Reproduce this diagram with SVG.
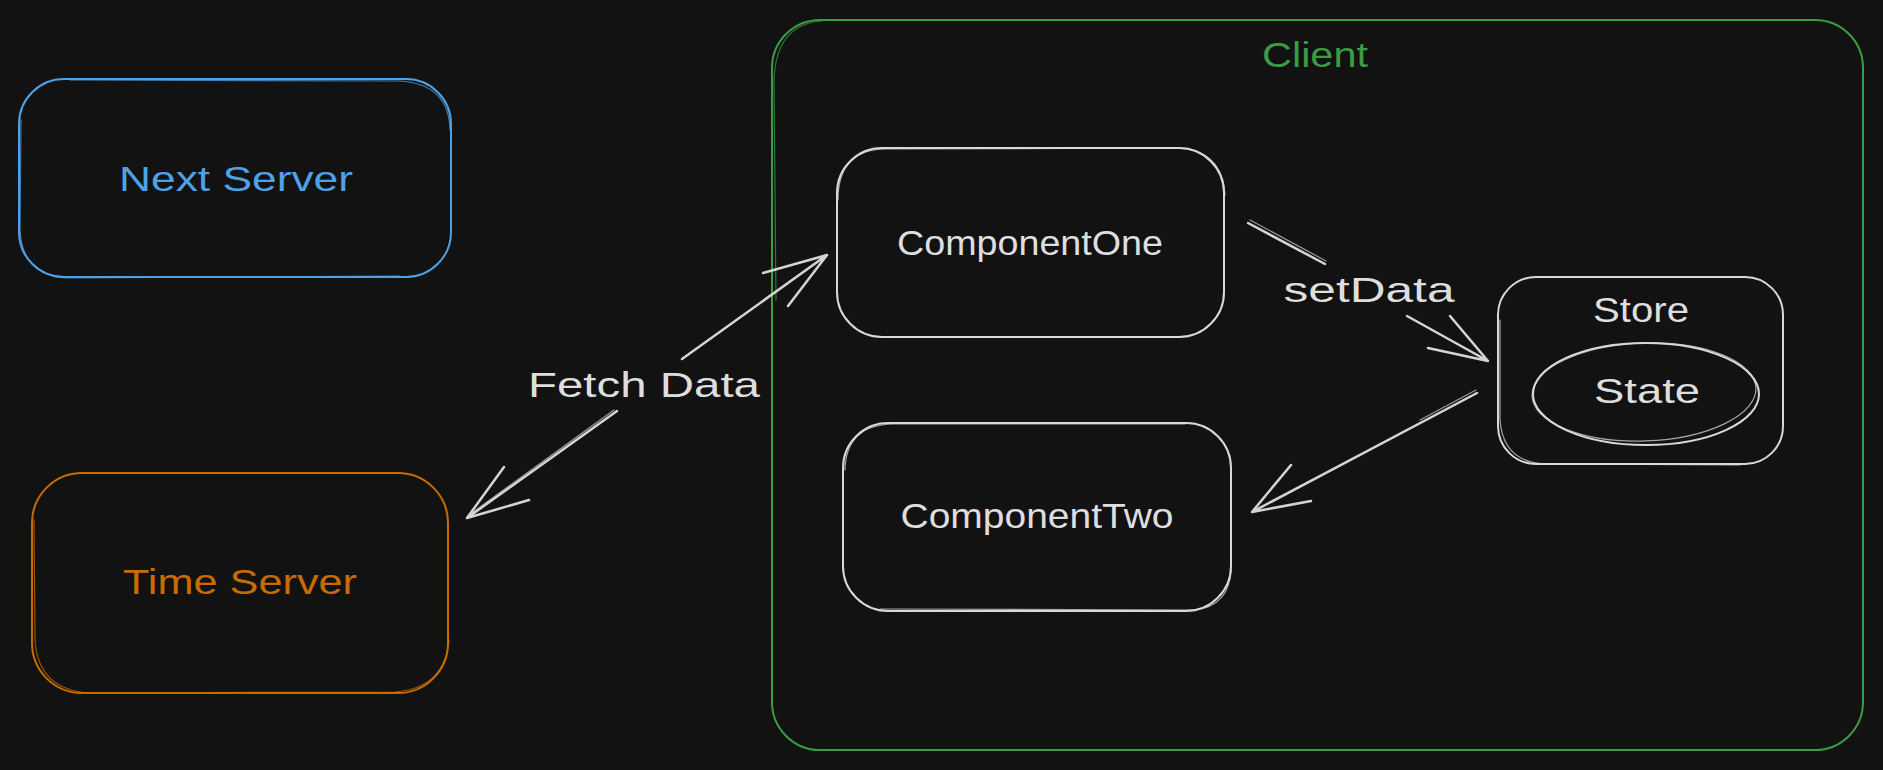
<svg xmlns="http://www.w3.org/2000/svg" width="1883" height="770" viewBox="0 0 1883 770">
  <defs>
    <style>
      .bg { fill: #121212; }
      .box { fill: none; stroke-width: 2; stroke-linecap: round; stroke-linejoin: round; }
      .box2 { fill: none; stroke-width: 1.2; stroke-linecap: round; opacity: 0.75; }
      .w { stroke: #d8d8d8; }
      .blue { stroke: #4fa1e6; }
      .orange { stroke: #c86c00; }
      .green { stroke: #3a9c45; }
      .lbl { font-family: "Liberation Sans", Arial, sans-serif; font-size: 35px; text-anchor: middle; }
      .tw { fill: #dedede; }
      .tblue { fill: #4fa1e6; }
      .torange { fill: #c86c00; }
      .tgreen { fill: #3a9c45; }
      .arrow { fill: none; stroke: #d4d4d4; stroke-width: 2.5; stroke-linecap: round; stroke-linejoin: round; }
      .arrow2 { fill: none; stroke: #d4d4d4; stroke-width: 1.2; stroke-linecap: round; opacity: 0.7; }
    </style>
  </defs>
  <rect class="bg" x="0" y="0" width="1883" height="770"/>

  <g id="client">
    <rect class="box green" x="772" y="20" width="1091" height="730" rx="48"/>
    <path class="box2 green" d="M776 300 L774 80 Q776 24 822 21"/>
    <text class="lbl tgreen" x="1315" y="67" font-size="38" textLength="106" lengthAdjust="spacingAndGlyphs">Client</text>
  </g>

  <g id="next-server">
    <rect class="box blue" x="19" y="79" width="432" height="198" rx="45"/>
    <path class="box2 blue" d="M21 120 L20 230 Q22 276 68 278 L400 276"/>
    <path class="box2 blue" d="M70 80 L400 81 Q449 84 450 130"/>
    <text class="lbl tblue" x="236" y="191" textLength="234" lengthAdjust="spacingAndGlyphs">Next Server</text>
  </g>

  <g id="time-server">
    <rect class="box orange" x="32" y="473" width="416" height="220" rx="50"/>
    <path class="box2 orange" d="M34 520 L35 640 Q38 690 90 693 L395 692 Q445 688 449 640"/>
    <text class="lbl torange" x="240" y="594" textLength="234" lengthAdjust="spacingAndGlyphs">Time Server</text>
  </g>

  <g id="component-one">
    <rect class="box w" x="837" y="148" width="387" height="189" rx="45"/>
    <path class="box2 w" d="M838 200 Q838 150 885 149 L1178 148 Q1222 150 1225 195"/>
    <text class="lbl tw" x="1030" y="255" textLength="266" lengthAdjust="spacingAndGlyphs">ComponentOne</text>
  </g>

  <g id="component-two">
    <rect class="box w" x="843" y="423" width="388" height="188" rx="45"/>
    <path class="box2 w" d="M845 470 Q846 425 893 424 L1185 424"/>
    <path class="box2 w" d="M880 609 L1195 610 Q1229 606 1231 570"/>
    <text class="lbl tw" x="1037" y="528" textLength="273" lengthAdjust="spacingAndGlyphs">ComponentTwo</text>
  </g>

  <g id="store">
    <rect class="box w" x="1498" y="277" width="285" height="187" rx="38"/>
    <path class="box2 w" d="M1500 320 L1500 420 Q1503 462 1545 464 L1740 465"/>
    <text class="lbl tw" x="1641" y="322" textLength="96" lengthAdjust="spacingAndGlyphs">Store</text>
  </g>

  <g id="state">
    <ellipse class="box w" cx="1646" cy="394" rx="113" ry="51"/>
    <ellipse class="box2 w" cx="1644" cy="392" rx="112" ry="49" transform="rotate(-2 1644 392)"/>
    <text class="lbl tw" x="1647" y="403" textLength="106" lengthAdjust="spacingAndGlyphs">State</text>
  </g>

  <g id="connectors">
    <!-- Fetch Data: Time Server <-> ComponentOne -->
    <path class="arrow" d="M682 359 L827 255 M763 273 L827 255 L788 306"/>
    <path class="arrow" d="M617 411 L467 518 M504 467 L467 518 L529 500"/>
    <path class="arrow2" d="M614 410 L469 515"/>
    <text class="lbl tw" x="644" y="397" textLength="232" lengthAdjust="spacingAndGlyphs">Fetch Data</text>

    <!-- setData: ComponentOne -> Store -->
    <path class="arrow" d="M1248 223 L1325 264"/>
    <path class="arrow2" d="M1250 220 L1326 261"/>
    <path class="arrow" d="M1407 316 L1488 361 M1428 348 L1488 361 L1450 316"/>
    <text class="lbl tw" x="1369" y="302" textLength="171" lengthAdjust="spacingAndGlyphs">setData</text>

    <!-- Store -> ComponentTwo -->
    <path class="arrow" d="M1477 393 L1252 512 M1291 465 L1252 512 L1311 501"/>
    <path class="arrow2" d="M1476 390 L1420 420"/>
  </g>
</svg>
